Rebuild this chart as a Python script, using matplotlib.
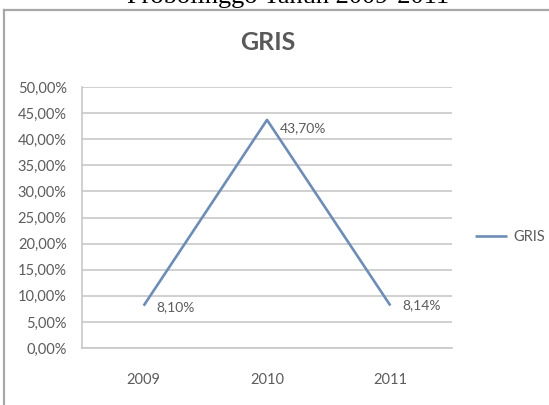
import matplotlib
matplotlib.use("Agg")
import matplotlib.pyplot as plt
from matplotlib.lines import Line2D
from matplotlib.ticker import FuncFormatter

# Data
years = ["2009", "2010", "2011"]
gris = [0.0810, 0.4370, 0.0814]
gris_labels = ["8,10%", "43,70%", "8,14%"]
y_ticks = [0.0, 0.05, 0.10, 0.15, 0.20, 0.25, 0.30, 0.35, 0.40, 0.45, 0.50]

plt.rcParams["font.family"] = ["Lato", "DejaVu Sans"]

text_color = "#5c5c5c"
line_color = "#6d8db6"
grid_color = "#c8c8c8"

fig = plt.figure(figsize=(5.49, 4.05), dpi=100)
fig.patch.set_facecolor("white")

# Chart box (left and top edges)
fig.add_artist(Line2D([4 / 549, 4 / 549], [0, 1 - 10 / 405],
                      transform=fig.transFigure, color="#a8a8a8", lw=1.6))
fig.add_artist(Line2D([4 / 549, 1], [1 - 10 / 405, 1 - 10 / 405],
                      transform=fig.transFigure, color="#a8a8a8", lw=1.6))

# Caption running off the top of the page
fig.text(288 / 549, 1 - 3 / 405, "Probolinggo Tahun 2009-2011",
         family="Liberation Serif", fontsize=19, color="black",
         ha="center", va="baseline")

ax = fig.add_axes([82 / 549, 57 / 405, 370 / 549, 261 / 405])
x = list(range(len(years)))
ax.plot(x, gris, color=line_color, lw=1.9, label="GRIS", solid_capstyle="butt")

offsets = [(9, -1), (9, -6), (9, 0)]
for xi, yi, lab, off in zip(x, gris, gris_labels, offsets):
    ax.annotate(lab, (xi, yi), xytext=off, textcoords="offset points",
                ha="left", va="center", fontsize=10, color=text_color)

ax.set_xlim(-0.5, len(years) - 0.5)
ax.set_ylim(0, 0.5)
ax.set_xticks(x)
ax.set_xticklabels(years)
ax.set_yticks(y_ticks)
ax.yaxis.set_major_formatter(FuncFormatter(lambda v, _: f"{v * 100:.2f}%".replace(".", ",")))
ax.tick_params(axis="y", length=0, pad=11, labelsize=10.5, labelcolor=text_color)
ax.tick_params(axis="x", length=0, pad=18, labelsize=10.5, labelcolor=text_color)

ax.grid(axis="y", color=grid_color, lw=1.2)
ax.set_axisbelow(True)
for side in ("top", "right"):
    ax.spines[side].set_visible(False)
for side in ("left", "bottom"):
    ax.spines[side].set_color(grid_color)
    ax.spines[side].set_linewidth(1.2)

fig.text(268 / 549, 1 - 43 / 405, "GRIS", fontsize=18, fontweight="bold",
         color="#595959", ha="center", va="center")

ax.legend(loc="center left", bbox_to_anchor=(475 / 549, 1 - 237 / 405),
          bbox_transform=fig.transFigure, frameon=False, borderpad=0,
          borderaxespad=0, handlelength=2.2, handletextpad=0.45,
          fontsize=10.5, labelcolor=text_color)

fig.savefig("out.png", dpi=100)
